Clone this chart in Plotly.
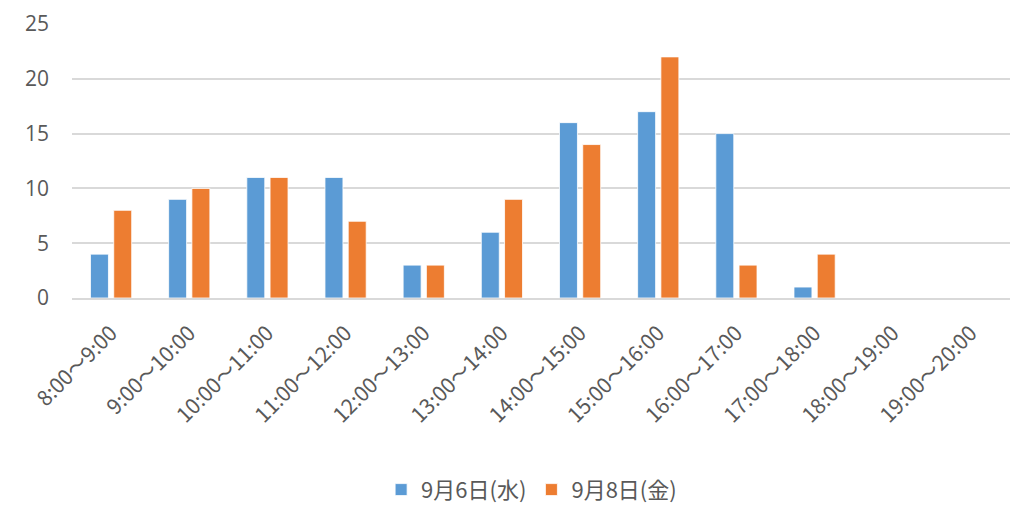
import plotly.graph_objects as go

# Hourly time slots and visitor counts for the two days
time_slots = [
    "8:00～9:00", "9:00～10:00", "10:00～11:00", "11:00～12:00",
    "12:00～13:00", "13:00～14:00", "14:00～15:00", "15:00～16:00",
    "16:00～17:00", "17:00～18:00", "18:00～19:00", "19:00～20:00",
]
day1_name = "9月6日(水)"
day1_counts = [4, 9, 11, 11, 3, 6, 16, 17, 15, 1, 0, 0]
day2_name = "9月8日(金)"
day2_counts = [8, 10, 11, 7, 3, 9, 14, 22, 3, 4, 0, 0]
y_ticks = [0, 5, 10, 15, 20, 25]

BLUE = "#5B9BD5"
ORANGE = "#ED7D31"
TEXT = "#595959"
GRID = "#D9D9D9"
FONT = "Noto Sans CJK JP, Open Sans, sans-serif"

fig = go.Figure()
fig.add_trace(go.Bar(
    x=time_slots, y=day1_counts, name=day1_name,
    marker=dict(color=BLUE, line=dict(color="white", width=0.8)),
))
fig.add_trace(go.Bar(
    x=time_slots, y=day2_counts, name=day2_name,
    marker=dict(color=ORANGE, line=dict(color="white", width=0.8)),
))

fig.update_layout(
    width=1034, height=510,
    margin=dict(l=72, r=24, t=24, b=212, autoexpand=False),
    paper_bgcolor="white", plot_bgcolor="white",
    barmode="group", bargap=0.405, bargroupgap=0.227,
    font=dict(family=FONT, color=TEXT, size=17),
    showlegend=True,
    legend=dict(
        orientation="h", x=0.49, xanchor="center", y=-0.70, yanchor="middle",
        font=dict(size=22, color=TEXT), itemwidth=30, traceorder="normal",
    ),
)
fig.update_yaxes(
    range=[0, 25], tickvals=y_ticks, showgrid=True, gridcolor=GRID, gridwidth=1.5,
    zeroline=False, showline=False, ticks="", ticklabelstandoff=22,
    automargin=False,
    tickfont=dict(size=21, color=TEXT, family="Open Sans, sans-serif"),
)
fig.update_xaxes(
    showline=True, linecolor=GRID, linewidth=1.5, ticks="", tickangle=-45,
    ticklabelstandoff=13, automargin=False,
    tickfont=dict(size=21, color=TEXT, family=FONT),
)

fig.write_html("out.html")
